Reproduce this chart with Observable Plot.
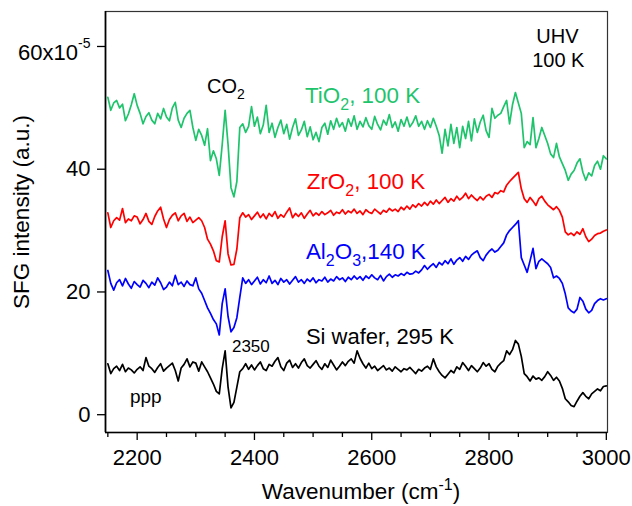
<!DOCTYPE html>
<html>
<head>
<meta charset="utf-8">
<script src="https://cdn.jsdelivr.net/npm/d3@7"></script>
<script src="https://cdn.jsdelivr.net/npm/@observablehq/plot@0.6"></script>
<style>
  body { margin: 0; background: #fff; }
  #chart svg { display: block; }
</style>
</head>
<body>
<div id="chart"></div>
<script>
// SFG spectra, sampled every 5 cm-1 from 2150 to 3000 cm-1 (units of 1e-5, offset for display)
const waveStart = 2150;
const waveStep = 5;

const tio2 = [
  51.7, 49.6, 50.8, 51.2, 50.0, 50.6, 47.9, 49.0, 50.5, 52.3,
  50.4, 49.1, 47.4, 48.6, 49.2, 48.0, 47.4, 49.1, 48.2, 49.9,
  48.5, 47.9, 50.0, 50.9, 48.0, 46.8, 48.3, 49.1, 49.6, 46.8,
  44.7, 46.5, 45.5, 43.9, 46.6, 41.4, 43.0, 41.7, 39.0, 44.0,
  49.6, 44.0, 37.0, 35.5, 38.0, 46.8, 47.4, 46.0, 47.0, 50.2,
  47.0, 48.5, 45.8, 47.2, 50.4, 46.0, 47.5, 45.2, 46.8, 48.0,
  45.8, 47.3, 44.9, 46.8, 48.2, 45.5, 46.4, 47.8, 45.3, 46.9,
  44.8, 46.0, 44.5, 46.8, 47.5, 45.7, 47.9, 46.5, 48.3, 46.9,
  47.6, 46.2, 48.2, 47.0, 48.7, 46.5, 47.8, 46.9, 48.4, 47.1,
  46.5, 48.6, 47.3, 46.4, 48.0, 47.2, 48.9, 46.8, 47.7, 46.2,
  48.1, 47.0, 48.5, 46.9, 47.6, 48.7, 47.0, 47.8, 46.5, 47.9,
  46.8, 48.3, 47.0, 45.5, 42.6, 46.5, 43.8, 47.3, 44.2, 46.8,
  43.5, 47.0, 45.0, 47.8, 44.6, 48.2, 46.0, 47.7, 48.8, 46.3,
  45.2, 49.9, 48.3, 48.8, 49.1, 50.2, 51.2, 47.4, 50.5, 52.5,
  50.8, 49.1, 43.5, 44.5, 44.0, 48.4, 43.5, 45.0, 46.8, 45.5,
  44.2, 42.5, 41.9, 44.2, 42.0, 40.9, 39.8, 38.2, 39.2, 39.8,
  41.0, 41.7, 39.5, 38.2, 39.4, 38.9, 40.6, 41.3, 40.0, 42.2,
  41.7
];

const zro2 = [
  32.9, 30.5, 31.6, 32.1, 31.7, 33.6, 31.3, 31.9, 31.6, 32.4,
  32.2, 31.1, 31.8, 32.8, 31.5, 31.0, 32.3, 33.2, 33.8, 31.9,
  30.5, 31.8, 32.5, 32.9, 31.6, 32.4, 32.8, 31.5, 32.2, 31.3,
  31.7, 32.1, 31.6, 30.5, 28.6, 27.8, 26.7, 25.1, 24.9, 29.0,
  31.6, 26.2, 24.4, 24.5, 27.0, 32.1, 32.9, 32.2, 32.6, 31.8,
  32.4, 33.0, 32.1, 32.7, 31.9, 32.8, 32.3, 33.1, 32.0, 32.6,
  32.2, 33.0, 33.7, 32.1, 32.8, 32.3, 32.9, 32.0, 32.7, 33.3,
  32.4, 32.9, 32.5, 33.1, 32.6, 32.9, 33.3, 32.5, 33.0, 32.8,
  33.4, 32.7, 33.2, 32.9, 33.5, 32.8, 33.2, 32.6, 33.4, 33.0,
  32.8, 33.5, 33.1, 32.7, 33.3, 33.0, 33.6, 33.2, 33.5, 33.1,
  33.8, 33.4, 34.0, 33.5, 34.2, 33.8, 34.4, 34.0, 34.6, 34.1,
  34.8, 34.3, 35.0, 34.4, 34.9, 35.4, 34.6, 35.2, 34.8, 35.6,
  35.0, 35.4, 36.1, 35.2, 35.8, 35.3, 34.9, 35.5, 35.0, 35.6,
  35.9, 35.4, 36.2, 36.0, 36.5, 36.3, 37.4, 38.0, 38.5, 39.0,
  39.5, 36.8, 35.2, 34.6, 35.4, 34.8, 34.1, 35.2, 35.6, 34.8,
  34.2, 33.8, 33.4, 33.9, 33.3, 32.2, 29.8, 29.3, 29.6, 29.2,
  29.8, 29.4, 30.3, 29.0, 28.2, 28.6, 29.2, 29.5, 29.6, 29.9,
  30.1
];

const al2o3 = [
  23.5, 21.4, 20.3, 21.5, 22.0, 21.0, 22.2, 21.3, 20.6, 21.7,
  21.2, 20.8, 21.9, 21.4, 20.7, 21.6, 21.1, 22.3, 21.5, 20.4,
  20.8, 21.6, 21.0, 22.7, 21.2, 21.6, 20.9, 21.8, 21.2, 21.0,
  22.3, 20.5, 19.8, 18.6, 17.4, 16.5, 15.5, 14.8, 13.0, 18.1,
  20.5, 16.0, 13.5, 14.2, 15.8, 19.1, 22.3, 21.4, 22.0, 21.2,
  21.8, 22.4, 21.3, 22.0, 21.5, 22.6, 21.4, 21.9, 21.2, 22.2,
  21.6, 22.0, 21.3, 21.9, 22.5, 21.6, 22.0, 21.4, 22.1, 21.7,
  22.3, 21.5, 22.0, 21.8, 22.4, 21.6, 22.1, 21.8, 22.5, 22.0,
  22.3, 21.7, 22.4, 22.0, 22.6, 22.1, 22.5, 21.9, 22.6, 22.2,
  22.8, 22.3, 22.0, 22.7, 21.8, 22.5, 22.9, 22.4, 22.8, 22.6,
  23.0, 22.7, 23.2, 22.9, 23.0, 23.4, 23.1, 23.6, 24.3, 23.7,
  24.2, 24.6, 24.0, 24.8, 24.4, 25.1, 24.6, 25.4, 24.5, 25.2,
  25.6, 25.0, 25.8, 25.3, 26.0, 26.4, 26.7, 25.6, 25.1, 26.0,
  26.6, 27.0, 26.5, 26.8, 27.4, 28.0, 29.3, 30.0, 30.5, 31.0,
  31.6, 25.6, 24.4, 23.2, 25.1, 27.1, 23.8, 25.0, 25.4, 25.0,
  24.6, 24.0, 22.3, 22.6, 22.2, 21.4, 19.7, 17.4, 16.9, 16.6,
  17.2, 19.1, 18.5, 17.2, 16.6, 17.0, 18.1, 18.6, 18.9, 18.7,
  18.9
];

const siWafer = [
  8.3, 6.7, 7.5, 7.9, 7.2, 8.2, 7.0, 7.6, 7.3, 6.8,
  7.4, 7.8, 7.2, 9.3, 7.9, 7.5, 6.9, 7.7, 8.3, 7.1,
  7.6, 8.0, 8.4, 7.2, 5.5, 7.6, 8.2, 9.1, 7.8, 8.6,
  8.4, 7.1, 8.6, 7.8, 7.0, 6.0, 5.0, 3.8, 3.4, 7.5,
  10.4, 4.5, 1.1, 2.0, 4.5, 7.0, 7.5, 8.3, 7.4, 8.1,
  7.3, 8.0, 8.6, 7.5, 7.2, 8.2, 7.9, 8.7, 9.3, 7.8,
  7.2, 8.4, 8.9, 7.7, 8.3, 7.6, 8.5, 9.1, 8.0, 7.6,
  8.2, 8.8, 7.9, 7.4, 8.3, 7.7, 8.9, 8.1, 7.3, 7.9,
  8.6, 8.0, 8.7, 9.1, 8.4, 10.4, 9.2, 8.3, 7.6, 8.4,
  7.5, 7.9, 7.2, 7.6, 8.0, 7.3, 7.6, 7.1, 7.8, 7.4,
  7.0, 7.5, 7.3, 7.7, 7.2, 6.7, 7.4, 7.1, 7.6, 7.9,
  7.4, 9.1, 7.8, 7.0, 6.4, 6.0, 6.6, 7.2, 6.8, 7.8,
  7.4, 8.5, 7.9, 7.2, 8.0, 7.5, 7.0, 7.6, 8.5, 7.9,
  8.3, 7.4, 7.0, 7.9, 8.4, 8.8, 10.4, 9.8, 10.6, 12.1,
  11.5, 9.5, 6.7, 6.2, 5.5, 6.3, 5.8, 6.0, 5.6, 6.2,
  7.0, 6.4, 5.6, 6.1, 5.5, 4.3, 2.6, 2.1, 1.5, 1.3,
  2.2, 3.0, 3.6, 3.0, 2.6, 3.4, 3.8, 4.2, 3.9, 4.6,
  4.7
];

const xMajorTicks = [2200, 2400, 2600, 2800, 3000];
const xMinorTicks = [2150, 2250, 2300, 2350, 2450, 2500, 2550, 2650, 2700, 2750, 2850, 2900, 2950];
const yTicks = [0, 20, 40, 60];

const xDomain = [2146, 3002];
const yDomain = [-2.9, 65.7];

const FONT = "'Liberation Sans', Arial, Helvetica, sans-serif";
const GREEN = "#1ec46c";

const traces = [
  { name: "TiO2", values: tio2, color: GREEN },
  { name: "ZrO2", values: zro2, color: "#ff0000" },
  { name: "Al2O3", values: al2o3, color: "#0000ff" },
  { name: "Si", values: siWafer, color: "#000000" }
];

const rows = traces.flatMap(t =>
  t.values.map((v, i) => ({ wn: waveStart + i * waveStep, y: v, name: t.name }))
);

const plot = Plot.plot({
  width: 632,
  height: 506,
  marginLeft: 105,
  marginRight: 25,
  marginTop: 11,
  marginBottom: 74,
  x: { domain: xDomain },
  y: { domain: yDomain },
  color: { domain: traces.map(t => t.name), range: traces.map(t => t.color) },
  style: { fontFamily: FONT, fontSize: "22px", color: "#000", background: "#fff" },
  marks: [
    Plot.frame({ stroke: "#333", strokeWidth: 1.2 }),
    Plot.ruleX([xDomain[0]], { stroke: "#000", strokeWidth: 1.7 }),
    Plot.ruleY([yDomain[0]], { stroke: "#000", strokeWidth: 1.7 }),
    Plot.axisX({ ticks: xMinorTicks, tickSize: 5, tickFormat: () => "", label: null, strokeWidth: 1.3 }),
    Plot.axisX({ ticks: xMajorTicks, tickSize: 8, tickPadding: 9, tickFormat: d => String(d), label: null, strokeWidth: 1.3, fontSize: 22 }),
    Plot.axisY({ ticks: yTicks, tickSize: 8, tickPadding: 7, tickFormat: d => d === 60 ? "60x10" : String(d), label: null, strokeWidth: 1.3, fontSize: 22 }),
    Plot.line(rows, { x: "wn", y: "y", z: "name", stroke: "name", strokeWidth: 1.7, curve: "linear" })
  ]
});

document.getElementById("chart").appendChild(plot);

const svg = d3.select(plot);
const sx = plot.scale("x");
const sy = plot.scale("y");

// Rich text: "_x" is a one-character subscript, "^{...}" a superscript
function setRich(sel, raw, fs) {
  sel.text(null);
  const parts = raw.split(/(_\{[^}]*\}|\^\{[^}]*\}|_.)/).filter(s => s);
  let shift = 0;
  for (const p of parts) {
    let kind = null, t = p;
    if (p.startsWith("_")) { kind = "sub"; t = p.startsWith("_{") ? p.slice(2, -1) : p.slice(1); }
    else if (p.startsWith("^")) { kind = "sup"; t = p.slice(2, -1); }
    const target = kind === "sub" ? Math.round(fs * 0.3) : kind === "sup" ? -Math.round(fs * 0.4) : 0;
    const ts = sel.append("tspan").text(t);
    if (target !== shift) ts.attr("dy", target - shift);
    if (kind) ts.attr("font-size", Math.round(fs * 0.7));
    shift = target;
  }
}

// Exponent on the top y tick label
svg.selectAll("text").filter(function () { return this.textContent === "60x10"; })
  .each(function () {
    const t = d3.select(this);
    t.attr("transform", function () {
      const tr = this.getAttribute("transform") || "";
      return tr + " translate(0,6)";
    });
    t.append("tspan").attr("font-size", 14).attr("dy", -12).text("-5");
  });

// Annotations placed in data coordinates
const notes = [
  { text: "CO_2", wn: 2320, v: 53.35, fs: 20, color: "#000", anchor: "start" },
  { text: "TiO_2, 100 K", wn: 2487, v: 51.93, fs: 22.4, color: GREEN, anchor: "start" },
  { text: "ZrO_2, 100 K", wn: 2490, v: 37.93, fs: 22.4, color: "#ff0000", anchor: "start" },
  { text: "Al_2O_3,140 K", wn: 2488.6, v: 26.53, fs: 22.4, color: "#0000ff", anchor: "start" },
  { text: "Si wafer, 295 K", wn: 2488.6, v: 12.53, fs: 22, color: "#000", anchor: "start" },
  { text: "2350", wn: 2362.5, v: 10.97, fs: 17, color: "#000", anchor: "start" },
  { text: "ppp", wn: 2188.6, v: 2.82, fs: 19, color: "#000", anchor: "start" },
  { text: "UHV", wn: 2917.4, v: 61.48, fs: 20, color: "#000", anchor: "middle" },
  { text: "100 K", wn: 2919, v: 57.58, fs: 20, color: "#000", anchor: "middle" }
];

const g = svg.append("g").attr("font-family", FONT);
for (const n of notes) {
  const t = g.append("text")
    .attr("x", sx.apply(n.wn))
    .attr("y", sy.apply(n.v) + 0.32 * n.fs)
    .attr("font-size", n.fs)
    .attr("fill", n.color)
    .attr("text-anchor", n.anchor);
  setRich(t, n.text, n.fs);
}

// Axis titles
const xt = svg.append("text")
  .attr("x", 361)
  .attr("y", 499)
  .attr("text-anchor", "middle")
  .attr("font-family", FONT)
  .attr("font-size", 22.5)
  .attr("fill", "#000");
setRich(xt, "Wavenumber (cm^{-1})", 22.5);

svg.append("text")
  .attr("transform", "translate(29,212) rotate(-90)")
  .attr("text-anchor", "middle")
  .attr("font-family", FONT)
  .attr("font-size", 22.5)
  .attr("fill", "#000")
  .text("SFG intensity (a.u.)");
</script>
</body>
</html>
